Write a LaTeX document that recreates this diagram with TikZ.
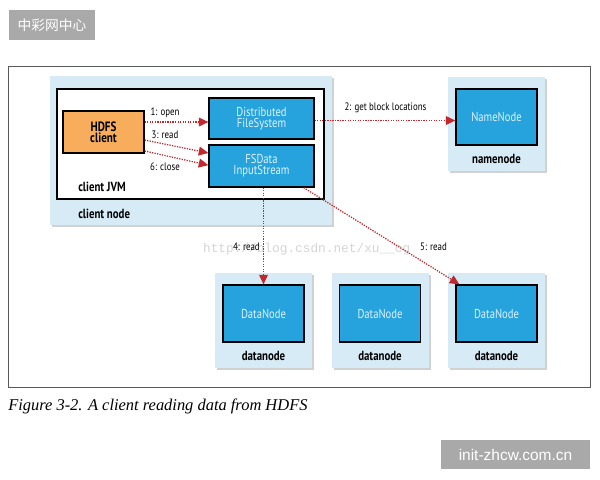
\documentclass[tikz,border=0pt]{standalone}
\usepackage{fontspec}
\setmainfont{PT Sans}[FakeStretch=0.82]
\newfontfamily\cjkfont{Noto Sans CJK SC}
\newfontfamily\webfont{Liberation Sans}
\newfontfamily\capfont{Liberation Serif}
\newfontfamily\markfont{Liberation Mono}
\usetikzlibrary{arrows.meta,positioning,shadows}
\definecolor{hostblue}{RGB}{214,235,246}
\definecolor{daemonblue}{RGB}{38,163,221}
\definecolor{daemontext}{RGB}{222,242,255}
\definecolor{hdfsorange}{RGB}{247,173,92}
\definecolor{callred}{RGB}{193,39,45}
\definecolor{badgegray}{RGB}{169,169,169}
\tikzset{
  host/.style={fill=hostblue, minimum width=2.425cm, minimum height=2.375cm,
    drop shadow={shadow xshift=0.05cm, shadow yshift=-0.05cm, opacity=0.3, fill=black!60}},
  daemon/.style={draw=black, line width=0.9pt, fill=daemonblue, text=daemontext,
    minimum width=2.025cm, minimum height=1.425cm, align=center,
    font=\fontsize{9.2}{10}\selectfont},
  hostlabel/.style={inner sep=0pt, font=\fontsize{9.4}{10}\selectfont\bfseries},
  call/.style={callred, line width=0.9pt, dash pattern=on 0.9pt off 0.9pt,
    -{Triangle[length=2.4mm,width=2.2mm]}},
  calllabel/.style={inner sep=0pt, font=\fontsize{7.7}{8}\selectfont},
  badge/.style={fill=badgegray, text=white, inner sep=0pt}
}
\begin{document}
\begin{tikzpicture}
\useasboundingbox (0,0) rectangle (15,-12);
% Badges
\node[badge, minimum width=2.15cm, minimum height=0.75cm, font=\cjkfont\fontsize{9.8}{11}\selectfont] (topbadge) at (1.3,-0.625) {中彩网中心};
\node[badge, minimum width=3.725cm, minimum height=0.725cm, font=\webfont\fontsize{11}{12}\selectfont] (webbadge) at (12.8875,-11.3625) {init-zhcw.com.cn};
% Frame
\draw[black!65, line width=0.6pt] (0.2,-1.65) rectangle (14.75,-9.675);
% Client side
\node[host, minimum width=7.05cm, minimum height=3.725cm] (cnode) at (4.775,-3.7625) {};
\node[draw=black, fill=white, line width=0.9pt, minimum width=6.675cm, minimum height=2.75cm] (jvm) at (4.7625,-3.6) {};
\node[daemon, fill=hdfsorange, text=black, minimum height=1.05cm, font=\fontsize{9.6}{10}\selectfont\bfseries] (hc) at (2.5875,-3.3) {HDFS\\[-2pt]client};
\node[daemon, minimum width=2.625cm, minimum height=1.025cm] (dfs) at (6.5375,-2.9625) {Distributed\\[-2pt]FileSystem};
\node[daemon, minimum width=2.625cm, minimum height=1.05cm] (fs) at (6.5375,-4.15) {FSData\\[-2pt]InputStream};
\node[hostlabel, anchor=west] (jvmlabel) at (1.95,-4.675) {client JVM};
\node[hostlabel, anchor=west] (cnlabel) at (1.95,-5.35) {client node};
% Namenode
\node[host, minimum height=2.35cm] (nnhost) at (12.4125,-3.1) {};
\node[daemon, minimum height=1.4cm] (nn) at (12.4125,-2.925) {NameNode};
\node[hostlabel, below=0.22cm of nn] (nnlabel) {namenode};
% Datanodes
\foreach \i/\x in {1/6.5875,2/9.5,3/12.4125}{
  \node[host] (dnhost\i) at (\x,-8.0125) {};
  \node[daemon] (dn\i) at (\x,-7.8375) {DataNode};
  \node[hostlabel, below=0.22cm of dn\i] (dnlabel\i) {datanode};
}
% Watermark
\node[anchor=base west, inner sep=0pt, text=black!17, font=\markfont\fontsize{9.1}{10}\selectfont] (mark) at (5.07,-6.3) {http://blog.csdn.net/xu\_\_cg};
% Calls
\draw[call] ([yshift=0.25cm]hc.east) -- ([yshift=0.25cm]hc.east -| dfs.west);
\draw[call] ([yshift=-0.2cm]hc.east) -- ([yshift=0.325cm]fs.west);
\draw[call] ([yshift=-0.475cm]hc.east) -- ([yshift=0.02cm]fs.west);
\draw[call] ([yshift=-0.05cm]dfs.east) -- ([yshift=-0.05cm]dfs.east -| nn.west);
\draw[call] (fs.south -| dn1.north) -- (dn1.north);
\draw[call] ([xshift=-0.275cm]fs.south east) -- ([xshift=0.1cm]dn3.north west);
% Labels
\node[calllabel] (l1) at (4.125,-2.825) {1: open};
\node[calllabel] (l3) at (4.125,-3.375) {3: read};
\node[calllabel] (l6) at (4.125,-4.175) {6: close};
\node[calllabel] (l2) at (9.6375,-2.7) {2: get block locations};
\node[calllabel, anchor=east] (l4) at (6.5,-6.175) {4: read};
\node[calllabel] (l5) at (10.8375,-6.175) {5: read};
% Caption
\node[anchor=west, inner sep=0pt, font=\capfont\itshape\fontsize{11.7}{12}\selectfont] (cap) at (0.2,-10.15) {Figure 3-2. A client reading data from HDFS};
\end{tikzpicture}
\end{document}
